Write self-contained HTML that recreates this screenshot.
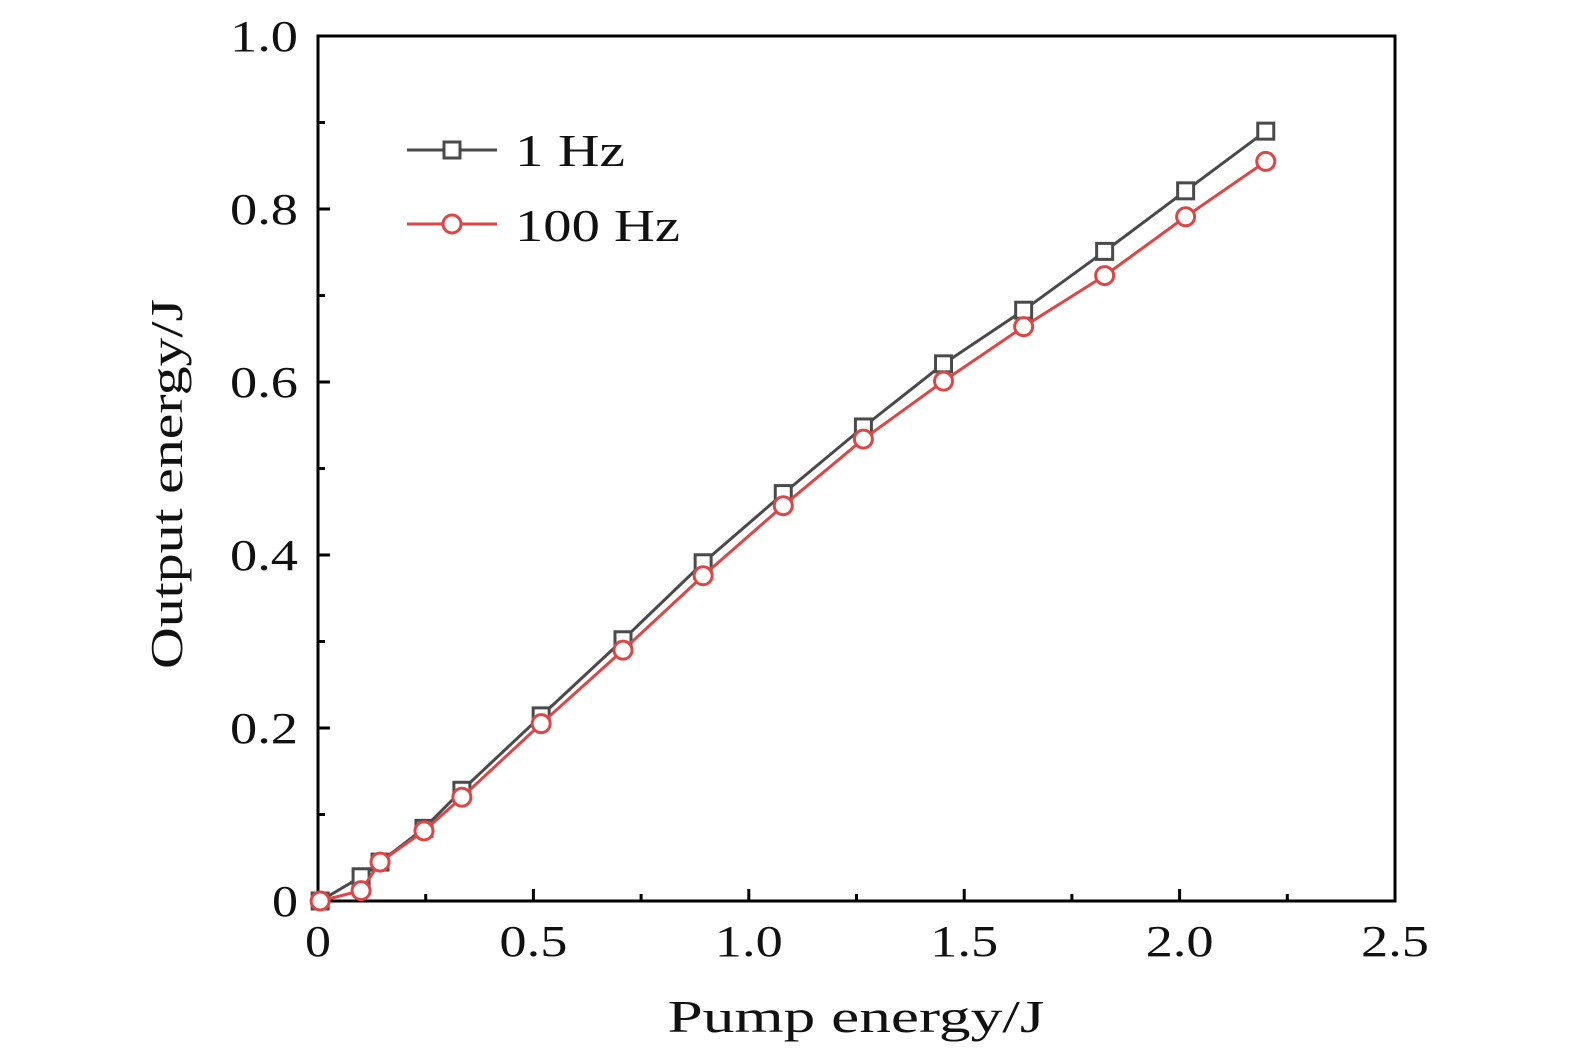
<!DOCTYPE html>
<html><head><meta charset="utf-8"><style>
html,body{margin:0;padding:0;background:#fff}
svg{display:block}
text{font-family:"Liberation Serif",serif;fill:#111}
</style></head><body>
<svg id="chart" width="1575" height="1059" viewBox="0 0 1575 1059"></svg>
<script>
const xData=[0.005,0.1,0.144,0.246,0.334,0.518,0.708,0.894,1.08,1.266,1.452,1.638,1.826,2.014,2.2];
const y1Hz=[0,0.028,0.045,0.084,0.128,0.214,0.302,0.391,0.471,0.548,0.621,0.683,0.751,0.821,0.890];
const y100Hz=[0,0.012,0.045,0.081,0.120,0.205,0.290,0.376,0.457,0.534,0.601,0.664,0.723,0.791,0.855];
const xTicks=[0,0.5,1.0,1.5,2.0,2.5];
const xTickLabels=["0","0.5","1.0","1.5","2.0","2.5"];
const yTicks=[0,0.2,0.4,0.6,0.8,1.0];
const yTickLabels=["0","0.2","0.4","0.6","0.8","1.0"];

const NS="http://www.w3.org/2000/svg";
const svg=document.getElementById('chart');
const L=318,R=1395,T=36,B=901;
const sx=v=>L+(v/2.5)*(R-L);
const sy=v=>B-(v/1.0)*(B-T);
function mk(tag,attrs,parent){const e=document.createElementNS(NS,tag);for(const k in attrs)e.setAttribute(k,attrs[k]);(parent||svg).appendChild(e);return e;}
const lenOf=s=>s.length===1?26:68;

const frame=mk('rect',{x:L,y:T,width:R-L,height:B-T,fill:'none',stroke:'#000','stroke-width':3});



xTicks.forEach((v,i)=>{
  const t=mk('line',{x1:sx(v),x2:sx(v),y1:B,y2:B-12,stroke:'#000','stroke-width':3});
  
  
  if(i<xTicks.length-1){
    const m=mk('line',{x1:sx(v+0.25),x2:sx(v+0.25),y1:B,y2:B-7,stroke:'#000','stroke-width':3});
    
    
  }
  const s=xTickLabels[i];
  const lb=mk('text',{x:sx(v),y:956,'font-size':44,'text-anchor':'middle',textLength:lenOf(s),lengthAdjust:'spacingAndGlyphs'});
  lb.textContent=s;
  
  
});
yTicks.forEach((v,i)=>{
  const t=mk('line',{x1:L,x2:L+12,y1:sy(v),y2:sy(v),stroke:'#000','stroke-width':3});
  
  
  if(i<yTicks.length-1){
    const m=mk('line',{x1:L,x2:L+7,y1:sy(v+0.1),y2:sy(v+0.1),stroke:'#000','stroke-width':3});
    
    
  }
  const s=yTickLabels[i];
  const lb=mk('text',{x:298,y:sy(v)+15,'font-size':44,'text-anchor':'end',textLength:lenOf(s),lengthAdjust:'spacingAndGlyphs'});
  lb.textContent=s;
  
  
});

const xt=mk('text',{x:856,y:1032,'font-size':46,'text-anchor':'middle',textLength:377,lengthAdjust:'spacingAndGlyphs'});
xt.textContent='Pump energy/J';


const yt=mk('text',{x:0,y:0,'font-size':46,'text-anchor':'middle',textLength:370,lengthAdjust:'spacingAndGlyphs',transform:'translate(182,484) rotate(-90)'});
yt.textContent='Output energy/J';



function series(ys,color,shape,name){
  const g=mk('g',{});
  
  
  const pts=xData.map((x,i)=>sx(x)+','+sy(ys[i])).join(' ');
  const pl=mk('polyline',{points:pts,fill:'none',stroke:color,'stroke-width':3},g);
  
  
  xData.forEach((x,i)=>{
    let m;
    if(shape==='sq') m=mk('rect',{x:sx(x)-8,y:sy(ys[i])-8,width:16,height:16,fill:'#fff',stroke:color,'stroke-width':3},g);
    else m=mk('circle',{cx:sx(x),cy:sy(ys[i]),r:9,fill:'#fff',stroke:color,'stroke-width':3},g);
    
    
  });
}
series(y1Hz,'#4a4a4a','sq','series-1hz');
series(y100Hz,'#e04545','ci','series-100hz');

const lg=mk('g',{});


const e1=mk('g',{},lg);


mk('line',{x1:407,x2:497,y1:150,y2:150,stroke:'#4a4a4a','stroke-width':3},e1);
mk('rect',{x:444,y:142,width:16,height:16,fill:'#fff',stroke:'#4a4a4a','stroke-width':3},e1);
const t1=mk('text',{x:515,y:166,'font-size':46,textLength:110,lengthAdjust:'spacingAndGlyphs'},e1);t1.textContent='1 Hz';
const e2=mk('g',{},lg);


mk('line',{x1:407,x2:497,y1:224,y2:224,stroke:'#e04545','stroke-width':3},e2);
mk('circle',{cx:452,cy:224,r:9,fill:'#fff',stroke:'#e04545','stroke-width':3},e2);
const t2=mk('text',{x:515,y:241,'font-size':46,textLength:165,lengthAdjust:'spacingAndGlyphs'},e2);t2.textContent='100 Hz';
</script>
</body></html>
